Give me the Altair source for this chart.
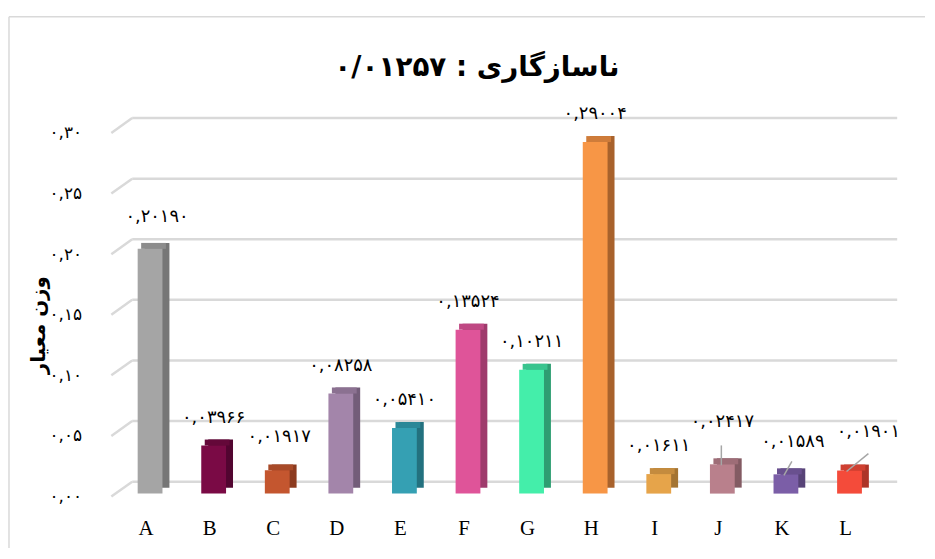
import json
import altair as alt
import pandas as pd

# ---------------- data ----------------
categories = ["A", "B", "C", "D", "E", "F", "G", "H", "I", "J", "K", "L"]
weights = [0.20190, 0.03966, 0.01917, 0.08258, 0.05410, 0.13524,
           0.10211, 0.29004, 0.01611, 0.02417, 0.01589, 0.01901]
y_ticks = [0.00, 0.05, 0.10, 0.15, 0.20, 0.25, 0.30]
y_tick_labels = ["۰,۰۰", "۰,۰۵", "۰,۱۰", "۰,۱۵", "۰,۲۰", "۰,۲۵", "۰,۳۰"]
title_text = "۰/۰۱۲۵۷ : ناسازگاری"
y_title = "وزن معیار"

# ---------------- styles ----------------
front_colors = ["#a5a5a5", "#7a0a45", "#c4562f", "#a385aa", "#35a0b3", "#df5499",
                "#44eeaa", "#f79646", "#e6a44a", "#b9808c", "#7b5ea7", "#f44b3a"]
side_colors = ["#767676", "#520530", "#8c3b1f", "#735d79", "#23717f", "#9f3b6c",
               "#2e9e72", "#a8622c", "#a47432", "#835b63", "#574377", "#ad3428"]
top_colors = ["#8c8c8c", "#640839", "#a84a28", "#8b7191", "#2b8898", "#bf4883",
              "#39c48e", "#cf7c3a", "#c48b3e", "#9e6d77", "#69508f", "#cf4031"]
grid_color = "#d9d9d9"
persian_font = "DejaVu Sans"

PERSIAN = str.maketrans("0123456789.", "۰۱۲۳۴۵۶۷۸۹,")
df = pd.DataFrame({"cat": categories, "w": weights})
df["label"] = [f"{v:.5f}".translate(PERSIAN) for v in weights]
ticks_df = pd.DataFrame({"tick": y_ticks})
one_df = pd.DataFrame({"k": [0]})

label_lookup = json.dumps({f"{t:.2f}": l for t, l in zip(y_ticks, y_tick_labels)},
                          ensure_ascii=False)

W, H = 768, 366

x_enc = alt.X("cat:N", sort=categories,
              scale=alt.Scale(domain=categories, paddingInner=0.61, paddingOuter=0.305),
              axis=alt.Axis(title=None, labelAngle=0, labelFont="Liberation Serif",
                            labelFontSize=21, labelColor="black", labelPadding=21,
                            domain=False, ticks=False, tickSize=0, grid=False))
y_scale = alt.Scale(domain=[0, 0.30], nice=False, zero=True)
y_axis = alt.Axis(values=y_ticks, labelExpr=f"{label_lookup}[format(datum.value, '.2f')]",
                  labelFont=persian_font, labelFontSize=17, labelColor="black",
                  labelPadding=33, domain=False, ticks=False, tickSize=0, grid=False,
                  title=y_title, titleFont=persian_font, titleFontSize=20,
                  titleFontWeight="bold", titleColor="black", titleAngle=270,
                  titleX=-76, titleY=193, titleAlign="center", titleBaseline="middle")
y_w = alt.Y("w:Q", scale=y_scale, axis=y_axis)
y_t = alt.Y("tick:Q", scale=y_scale, axis=y_axis)


def color_enc(rng):
    return alt.Color("cat:N", scale=alt.Scale(domain=categories, range=rng), legend=None)


# chart frame (decoration)
frame_left = alt.Chart(one_df).mark_rule(color=grid_color, strokeWidth=1.5).encode(
    x=alt.value(-106), y=alt.value(-117), y2=alt.value(440))
frame_top = alt.Chart(one_df).mark_rule(color=grid_color, strokeWidth=1.5).encode(
    x=alt.value(-106), x2=alt.value(816), y=alt.value(-117))

# 3D back wall gridlines and their side-wall connectors
diag = alt.Chart(ticks_df).mark_rule(color=grid_color, strokeWidth=2.5, y2Offset=-15).encode(
    x=alt.value(-3), x2=alt.value(18), y=y_t, y2="tick:Q")
grid = alt.Chart(ticks_df).mark_rule(color=grid_color, strokeWidth=2.5,
                                     yOffset=-15, y2Offset=-15).encode(
    x=alt.value(18), x2=alt.value(788), y=y_t)

# 3D bars: side/back face, top face, front face
bar_side = alt.Chart(df).mark_bar(xOffset=11, yOffset=-9, y2Offset=-9).encode(
    x=x_enc, y=y_w, color=color_enc(side_colors))
bar_top = alt.Chart(df).mark_bar(xOffset=7.5, yOffset=-9, y2Offset=-3).encode(
    x=x_enc, y=y_w, y2="w:Q", color=color_enc(top_colors))
bar_front = alt.Chart(df).mark_bar(xOffset=4, yOffset=-3, y2Offset=-3).encode(
    x=x_enc, y=y_w, color=color_enc(front_colors))

# leader lines for the small bars
def leader(cat, xo, yo, x2o, y2o):
    return alt.Chart(df).transform_filter(alt.datum.cat == cat).mark_rule(
        color="#a6a6a6", strokeWidth=1.5, xOffset=xo, yOffset=yo,
        x2Offset=x2o, y2Offset=y2o).encode(x=x_enc, x2="cat:N", y=y_w, y2="w:Q")

leaders = [leader("J", 3, -22, 3, -2), leader("K", 10, -16, 2, -2),
           leader("L", 23, -20, 1, -2)]

# data labels
nudges = {"A": (7, -4), "C": (2, -6), "J": (0, -15), "K": (7, -5), "L": (19, -11)}

def text_layer(flt, dx, dy):
    return alt.Chart(df).transform_filter(flt).mark_text(
        font=persian_font, fontSize=18, color="black", baseline="middle",
        align="center", xOffset=4, yOffset=-3, dx=dx, dy=-28 + dy).encode(
        x=x_enc, y=y_w, text="label:N")

labels = [text_layer(f"indexof({json.dumps(list(nudges))}, datum.cat) < 0", 0, 0)]
for c, (dx, dy) in nudges.items():
    labels.append(text_layer(alt.datum.cat == c, dx, dy))

chart = alt.layer(frame_left, frame_top, diag, grid, bar_side, bar_top, bar_front,
                  *leaders, *labels).resolve_scale(color="independent").properties(
    width=W, height=H,
    autosize=alt.AutoSizeParams(type="none"),
    padding={"left": 107, "top": 124, "right": 50, "bottom": 50},
    title=alt.TitleParams(text=title_text, font=persian_font, fontSize=28,
                          fontWeight="bold", color="black", anchor="middle",
                          frame="group", dx=-19, offset=-66),
    background="white",
).configure_view(stroke=None)

chart.save("out.html", embed_options={"renderer": "svg", "actions": False})
